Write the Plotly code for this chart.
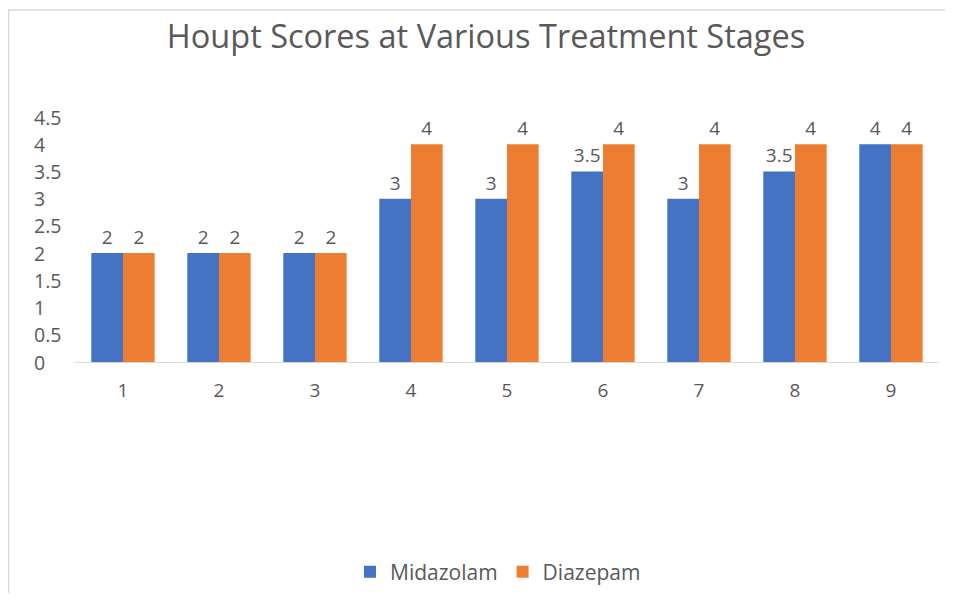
import plotly.graph_objects as go

stages = ["1", "2", "3", "4", "5", "6", "7", "8", "9"]
midazolam = [2, 2, 2, 3, 3, 3.5, 3, 3.5, 4]
diazepam = [2, 2, 2, 4, 4, 4, 4, 4, 4]
y_ticks = [0, 0.5, 1, 1.5, 2, 2.5, 3, 3.5, 4, 4.5]
y_tick_labels = ["0", "0.5", "1", "1.5", "2", "2.5", "3", "3.5", "4", "4.5"]

FONT = "Open Sans"
GRAY = "#595959"

# page has an 8px body margin, so work in figure coords = page - 8
OFF = 8
W, H = 953 - 2 * OFF, 601 - 2 * OFF
L, T = 75 - OFF, 117 - OFF
R = W - (939 - OFF)
B = H - (362 - OFF)
PW, PH = W - L - R, H - T - B

def px_x(px):
    return (px - OFF - L) / PW

def px_y(py):
    return (H - B - (py - OFF)) / PH

fig = go.Figure()
fig.add_trace(go.Bar(
    x=stages, y=midazolam, name="Midazolam", marker_color="#4472C4",
    text=[f"{v:g}" for v in midazolam], textposition="outside",
    textfont=dict(family=FONT, size=19, color=GRAY), cliponaxis=False,
    marker_line_width=0,
))
fig.add_trace(go.Bar(
    x=stages, y=diazepam, name="Diazepam", marker_color="#ED7D31",
    text=[f"{v:g}" for v in diazepam], textposition="outside",
    textfont=dict(family=FONT, size=19, color=GRAY), cliponaxis=False,
    marker_line_width=0,
))

annotations = []
for v, lab in zip(y_ticks, y_tick_labels):
    annotations.append(dict(
        x=px_x(32), xref="paper", y=v, yref="y", text=lab, showarrow=False,
        xanchor="left", yanchor="middle",
        font=dict(family=FONT, size=19.5, color=GRAY),
    ))

fig.update_layout(
    width=W, height=H,
    margin=dict(l=L, r=R, t=T, b=B, autoexpand=False),
    paper_bgcolor="white", plot_bgcolor="white",
    barmode="group", bargap=0.34, bargroupgap=0,
    title=dict(text="Houpt Scores at Various Treatment Stages",
               font=dict(family=FONT, size=32.5, color=GRAY),
               x=px_x(486), xref="paper", xanchor="center",
               y=1 - (37 - OFF) / H, yanchor="middle"),
    xaxis=dict(showline=True, linecolor="#d9d9d9", linewidth=1,
               showgrid=False, ticks="", ticklabelstandoff=11,
               tickfont=dict(family=FONT, size=19, color=GRAY)),
    yaxis=dict(range=[0, 4.5], showgrid=False, showline=False,
               zeroline=False, showticklabels=False, tickvals=y_ticks),
    legend=dict(orientation="h", x=px_x(498), xanchor="center",
                y=px_y(572), yanchor="middle",
                font=dict(family=FONT, size=21, color=GRAY),
                itemwidth=30, tracegroupgap=0),
    annotations=annotations,
    shapes=[
        dict(type="line", xref="paper", yref="paper",
             x0=px_x(8), x1=px_x(953), y0=px_y(10), y1=px_y(10),
             line=dict(color="#d9d9d9", width=1.5)),
        dict(type="line", xref="paper", yref="paper",
             x0=px_x(8.5), x1=px_x(8.5), y0=px_y(10), y1=px_y(601),
             line=dict(color="#d9d9d9", width=1.5)),
    ],
    showlegend=True,
)

fig.write_html("out.html")
